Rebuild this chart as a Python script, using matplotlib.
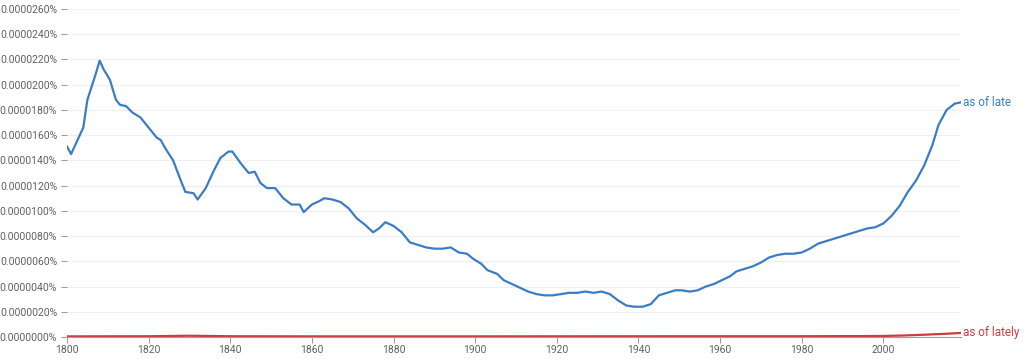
import matplotlib.pyplot as plt
from matplotlib.ticker import FuncFormatter

plt.rcParams['font.family'] = ['Roboto', 'DejaVu Sans']

# values in units of 1e-7 percent
years_late = [1800, 1801, 1802, 1804, 1805, 1807, 1808, 1809, 1810.5, 1812, 1813, 1814.5,
              1816, 1818, 1820, 1822, 1823, 1824, 1826, 1828, 1829, 1831, 1832, 1834,
              1836, 1837.6, 1839.6, 1840.5, 1842.5, 1844.5, 1846, 1847.4, 1849, 1851,
              1853, 1855, 1857, 1858, 1860, 1862, 1863, 1865, 1867, 1869, 1871, 1873,
              1875, 1876.4, 1878, 1880, 1882, 1884, 1886, 1888, 1890, 1892, 1894, 1896,
              1898, 1899.5, 1901.5, 1903, 1905.4, 1907, 1909, 1911, 1913, 1915, 1917,
              1919, 1921, 1923, 1925, 1927, 1929, 1931, 1933, 1935, 1937, 1939, 1941,
              1943, 1945, 1947, 1949, 1950.6, 1952.6, 1954.5, 1956.5, 1958.5, 1960.4,
              1962.4, 1964, 1966, 1968, 1970, 1972, 1974, 1976, 1978, 1980, 1982, 1984,
              1986, 1988, 1990, 1992, 1994, 1996, 1998, 2000, 2002, 2004, 2006, 2008,
              2010, 2012, 2013.5, 2015.5, 2017.5, 2019]
vals_late = [151, 145, 152, 166, 188, 208, 219, 212, 204, 188, 184, 183,
             178, 174, 166, 158, 156, 150, 140, 123, 115, 114, 109, 118,
             132, 142, 147, 147, 138, 130, 131, 122, 118, 118,
             110, 105, 105, 99, 105, 108, 110, 109, 107, 102, 94, 89,
             83, 86, 91, 88, 83, 75, 73, 71, 70, 70, 71, 67,
             66, 62, 58, 53, 50, 45, 42, 39, 36, 34, 33,
             33, 34, 35, 35, 36, 35, 36, 34, 29, 25, 24, 24,
             26, 33, 35, 37, 37, 36, 37, 40, 42, 45,
             48, 52, 54, 56, 59, 63, 65, 66, 66, 67, 70, 74,
             76, 78, 80, 82, 84, 86, 87, 90, 96, 104, 115, 124,
             136, 152, 168, 180, 185, 186]

years_lately = [1800, 1820, 1830, 1840, 1860, 1900, 1950, 1980, 2000, 2005, 2010, 2015, 2019]
vals_lately = [0.5, 0.6, 1.0, 0.6, 0.5, 0.5, 0.6, 0.6, 0.8, 1.2, 1.8, 2.5, 3.2]

x_ticks = list(range(1800, 2001, 20))
y_ticks = list(range(0, 261, 20))

fig = plt.figure(figsize=(10.24, 3.59), dpi=100)
ax = fig.add_axes([0.0654, 0.0613, 0.873, 0.9137])

ax.plot(years_late, vals_late, color='#3b7dc4', lw=1.6, solid_joinstyle='round')
ax.plot(years_lately, vals_lately, color='#cc3c3c', lw=1.6)

ax.text(2019.6, vals_late[-1], 'as of late', color='#3b7dc4', fontsize=8.5, va='center', ha='left')
ax.text(2019.6, vals_lately[-1], 'as of lately', color='#cc3c3c', fontsize=8.5, va='center', ha='left')

ax.set_xlim(1800, 2019)
ax.set_ylim(0, 260)
ax.set_xticks(x_ticks)
ax.set_yticks(y_ticks)
ax.yaxis.set_major_formatter(FuncFormatter(lambda v, p: '%.7f%%' % (v * 1e-7)))

ax.grid(axis='y', color='#efefef', lw=0.8)
ax.set_axisbelow(True)
for s in ['top', 'right', 'left']:
    ax.spines[s].set_visible(False)
ax.spines['bottom'].set_color('#9e9e9e')
ax.tick_params(axis='y', colors='#9e9e9e', labelcolor='#616161', labelsize=7.5, length=4, pad=3)
ax.tick_params(axis='x', colors='#9e9e9e', labelcolor='#616161', labelsize=7.5, length=4, pad=2)

fig.savefig('out.png', dpi=100)
